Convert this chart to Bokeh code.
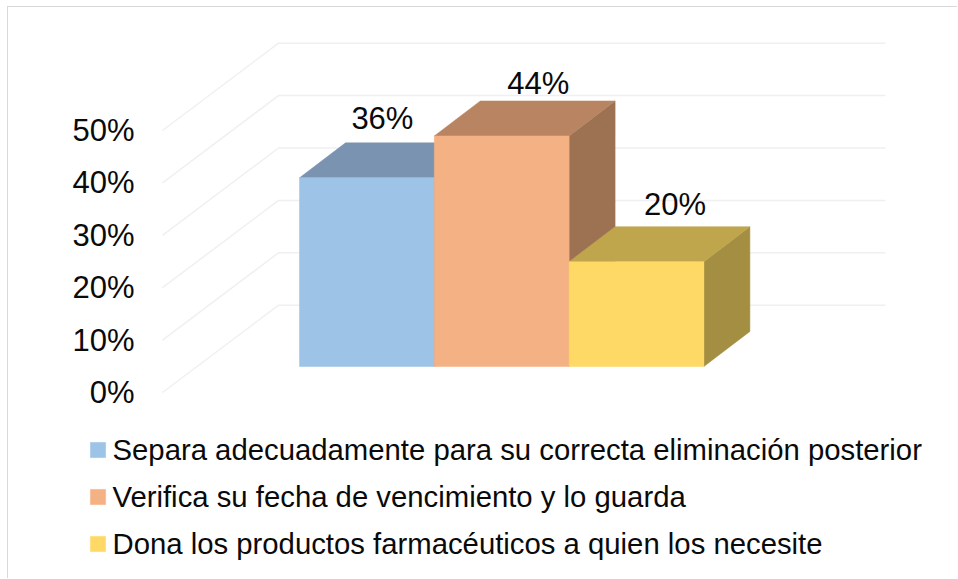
from bokeh.plotting import figure
from bokeh.models import Range1d, FixedTicker, Legend, LegendItem, ColumnDataSource
from bokeh.core.properties import value
from bokeh.embed import file_html
from bokeh.resources import INLINE

# ---- data ----
categories = ["Separa adecuadamente para su correcta eliminación posterior",
              "Verifica su fecha de vencimiento y lo guarda",
              "Dona los productos farmacéuticos a quien los necesite"]
percent = [36, 44, 20]
percent_labels = ["36%", "44%", "20%"]
axis_ticks = [0, 10, 20, 30, 40, 50]

# ---- style ----
front = ["#9DC3E6", "#F4B183", "#FFD966"]
top = ["#7A93B0", "#B98462", "#BFA54C"]
side = ["#7A93B0", "#9C7253", "#A38E41"]
GRID = "#F0F0F0"
FONT = "Liberation Sans"
BORDER = "#D9D9D9"
PX_X = 134.8      # pixels per bar
PX_Y = 5.24       # pixels per percentage point
CX, CY = 8, 7     # page position of the figure's content box
W, H = 950, 572
FRAME_LEFT = 85   # page x of the plot frame
ORIGIN_X = 299    # page x of first bar's left edge
ORIGIN_Y = 392    # page y of the 0% front gridline

floor = 26 / PX_Y                # bar base above the front 0% line
bar_dx, bar_dy = 46 / PX_X, 35 / PX_Y
grid_dx, grid_dy = 116 / PX_X, 87.3 / PX_Y
grid_x0, grid_x1 = (162 - ORIGIN_X) / PX_X, (885 - ORIGIN_X) / PX_X

p = figure(width=W, height=H, output_backend="svg", toolbar_location=None,
           x_range=Range1d((FRAME_LEFT - ORIGIN_X) / PX_X, (CX + W - ORIGIN_X) / PX_X),
           y_range=Range1d((ORIGIN_Y - (CY + H)) / PX_Y, (ORIGIN_Y - CY) / PX_Y),
           min_border_left=FRAME_LEFT - CX, min_border_top=0, min_border_right=0, min_border_bottom=0,
           x_axis_location=None, outline_line_color=None,
           styles={"margin-top": f"{CY - 1.5}px", "margin-left": f"{CX - 1.5}px",
                   "border-top": f"1.5px solid {BORDER}", "border-left": f"1.5px solid {BORDER}"})
p.grid.visible = False

ax = p.yaxis[0]
ax.ticker = FixedTicker(ticks=axis_ticks)
ax.major_label_overrides = {t: f"{t}%" for t in axis_ticks}
ax.axis_line_color = None
ax.major_tick_line_color = None
ax.minor_tick_line_color = None
ax.major_label_standoff = -55
ax.major_label_text_font = FONT
ax.major_label_text_font_size = "31px"
ax.major_label_text_color = "#0a0a0a"

# gridlines: front end, back corner, back right end
p.multi_line(xs=[[grid_x0, grid_x0 + grid_dx, grid_x1] for _ in axis_ticks],
             ys=[[t, t + grid_dy, t + grid_dy] for t in axis_ticks],
             line_color=GRID, line_width=1.5)

items = []
for i in range(3):
    x0, x1, y0, y1 = i, i + 1, floor, floor + percent[i]
    p.patch([x1, x1 + bar_dx, x1 + bar_dx, x1], [y0, y0 + bar_dy, y1 + bar_dy, y1],
            fill_color=side[i], line_color=side[i], line_width=0.5)
for i in range(3):
    x0, x1, y0, y1 = i, i + 1, floor, floor + percent[i]
    p.patch([x0, x0 + bar_dx, x1 + bar_dx, x1], [y1, y1 + bar_dy, y1 + bar_dy, y1],
            fill_color=top[i], line_color=top[i], line_width=0.5)
for i in range(3):
    x0, x1, y0, y1 = i, i + 1, floor, floor + percent[i]
    r = p.quad(left=[x0], right=[x1], bottom=[y0], top=[y1],
               fill_color=front[i], line_color=front[i], line_width=0.5)
    items.append(LegendItem(label=categories[i], renderers=[r]))

label_src = ColumnDataSource(dict(
    x=[i + 0.5 for i in range(3)],
    y=[floor + v for v in percent],
    text=percent_labels,
    xo=[15.5, 36.5, 38.5],
    yo=[-59, -52, -57],
))
p.text(x="x", y="y", text="text", x_offset="xo", y_offset="yo", source=label_src,
       text_font=value(FONT), text_font_size="31px", text_color="#0a0a0a",
       text_align="center", text_baseline="alphabetic")

legend = Legend(items=items, location=(3, 18), orientation="vertical",
                background_fill_alpha=0, border_line_color=None, margin=0, padding=0,
                glyph_width=19, glyph_height=19, label_standoff=6, spacing=13,
                label_text_font=FONT, label_text_font_size="29.3px", label_text_color="#0a0a0a")
p.add_layout(legend)

open("out.html", "w").write(file_html(p, INLINE))
